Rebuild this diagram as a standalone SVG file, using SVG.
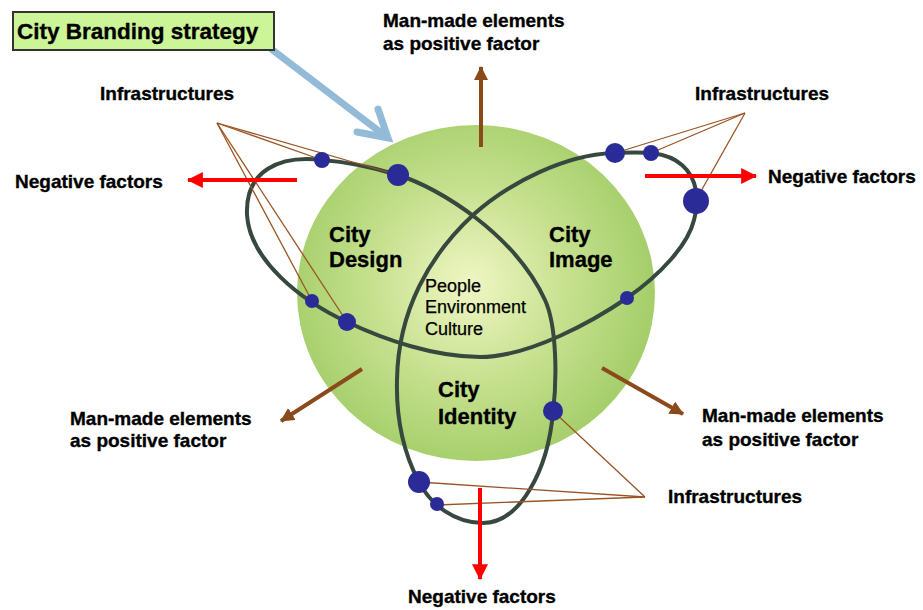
<svg xmlns="http://www.w3.org/2000/svg" width="923" height="610" viewBox="0 0 923 610">
<style>
.lbl{font-family:"Liberation Sans",Arial,sans-serif;font-weight:bold;font-size:19px;fill:#000;stroke:#000;stroke-width:0.35}
.big{font-family:"Liberation Sans",Arial,sans-serif;font-weight:bold;font-size:22px;fill:#000;stroke:#000;stroke-width:0.35}
.core{font-family:"Liberation Sans",Arial,sans-serif;font-size:18px;fill:#000;stroke:#000;stroke-width:0.25}
.lead{stroke:#9a5424;stroke-width:1.3;fill:none}
.red{stroke:#ff0000;stroke-width:4;marker-end:url(#redHead)}
.brown{stroke:#8b4a1c;stroke-width:4;marker-end:url(#brownHead)}
.dot{fill:#2b2b98}
</style>
<defs>
<radialGradient id="g" cx="470" cy="285" r="180" gradientUnits="userSpaceOnUse">
<stop offset="0" stop-color="#f0f6c4"/>
<stop offset="0.55" stop-color="#c6e08e"/>
<stop offset="1" stop-color="#a6cf6c"/>
</radialGradient>
<marker id="redHead" markerUnits="userSpaceOnUse" markerWidth="16" markerHeight="16" viewBox="0 0 14 14" refX="13" refY="7" orient="auto"><path d="M0,0 L14,7 L0,14 z" fill="#ff0000"/></marker>
<marker id="brownHead" markerUnits="userSpaceOnUse" markerWidth="14" markerHeight="14" viewBox="0 0 14 14" refX="13" refY="7" orient="auto"><path d="M0,0 L14,7 L0,14 z" fill="#8b4a1c"/></marker>
</defs>
<rect width="923" height="610" fill="#ffffff"/>
<g id="sphere"><ellipse cx="476" cy="293" rx="179" ry="168" fill="url(#g)"/></g>
<g id="trefoil">
<path d="M 398 175 C 440 188, 515 235, 545 300 C 557 326, 557 380, 553 412 C 548 470, 520 523, 483 523 C 455 523, 430 505, 418 480 C 405 455, 396 420, 397 380 C 398 310, 430 255, 473 215 C 510 182, 565 155, 613 153 C 640 152, 665 150, 682 165 C 697 178, 700 200, 694 220 C 688 245, 660 275, 627 298 C 595 320, 530 357, 480 357 C 435 357, 385 340, 347 322 C 300 300, 250 260, 247 215 C 245 170, 280 155, 322 160 C 350 162, 375 168, 398 175 Z" fill="none" stroke="#37483f" stroke-width="4"/>
</g>
<g id="connectors">
<line class="lead" x1="217" y1="123" x2="322" y2="160"/>
<line class="lead" x1="217" y1="123" x2="398" y2="175"/>
<line class="lead" x1="217" y1="123" x2="312" y2="301"/>
<line class="lead" x1="217" y1="123" x2="347" y2="322"/>
<line class="lead" x1="745" y1="113" x2="615" y2="153"/>
<line class="lead" x1="745" y1="113" x2="651" y2="153"/>
<line class="lead" x1="745" y1="113" x2="696" y2="200"/>
<line class="lead" x1="645" y1="497" x2="553" y2="411"/>
<line class="lead" x1="645" y1="497" x2="419" y2="482"/>
<line class="lead" x1="645" y1="497" x2="437" y2="505"/>
<line class="red" x1="297" y1="180" x2="188" y2="180"/>
<line class="red" x1="645" y1="176" x2="756" y2="176"/>
<line class="red" x1="480" y1="488" x2="480" y2="579"/>
<line class="brown" x1="481" y1="147" x2="481" y2="67"/>
<line class="brown" x1="362" y1="369" x2="281" y2="421"/>
<line class="brown" x1="602" y1="368" x2="683" y2="414"/>
<line x1="270" y1="48" x2="384" y2="135" stroke="#93bbd8" stroke-width="7"/>
<polyline points="357,132 388,138 378,109" fill="none" stroke="#93bbd8" stroke-width="7" stroke-linecap="round" stroke-linejoin="miter"/>
</g>
<g id="dots">
<circle class="dot" cx="322" cy="160" r="8"/>
<circle class="dot" cx="398" cy="175" r="11"/>
<circle class="dot" cx="312" cy="301" r="7"/>
<circle class="dot" cx="347" cy="322" r="9"/>
<circle class="dot" cx="615" cy="153" r="10"/>
<circle class="dot" cx="651" cy="153" r="8"/>
<circle class="dot" cx="696" cy="201" r="13"/>
<circle class="dot" cx="627" cy="298" r="7"/>
<circle class="dot" cx="553" cy="411" r="10"/>
<circle class="dot" cx="419" cy="482" r="11"/>
<circle class="dot" cx="437" cy="504" r="7"/>
</g>
<g id="title">
<rect x="13" y="12" width="261" height="38" fill="#ccf598" stroke="#333333" stroke-width="2"/>
<text class="lbl" x="17" y="39" style="font-size:22.5px">City Branding strategy</text>
</g>
<g id="labels">
<text class="lbl" x="383" y="27">Man-made elements</text>
<text class="lbl" x="383" y="50">as positive factor</text>
<text class="lbl" x="100" y="100">Infrastructures</text>
<text class="lbl" x="695" y="100">Infrastructures</text>
<text class="lbl" x="15" y="188">Negative factors</text>
<text class="lbl" x="768" y="183">Negative factors</text>
<text class="lbl" x="70" y="425">Man-made elements</text>
<text class="lbl" x="70" y="447">as positive factor</text>
<text class="lbl" x="702" y="422">Man-made elements</text>
<text class="lbl" x="702" y="446">as positive factor</text>
<text class="lbl" x="668" y="503">Infrastructures</text>
<text class="lbl" x="408" y="603">Negative factors</text>
</g>
<g id="regions">
<text class="big" x="329" y="242">City</text>
<text class="big" x="329" y="267">Design</text>
<text class="big" x="549" y="242">City</text>
<text class="big" x="549" y="267">Image</text>
<text class="big" x="438" y="397">City</text>
<text class="big" x="438" y="424">Identity</text>
<text class="core" x="425" y="292">People</text>
<text class="core" x="425" y="313">Environment</text>
<text class="core" x="425" y="335">Culture</text>
</g>
</svg>
